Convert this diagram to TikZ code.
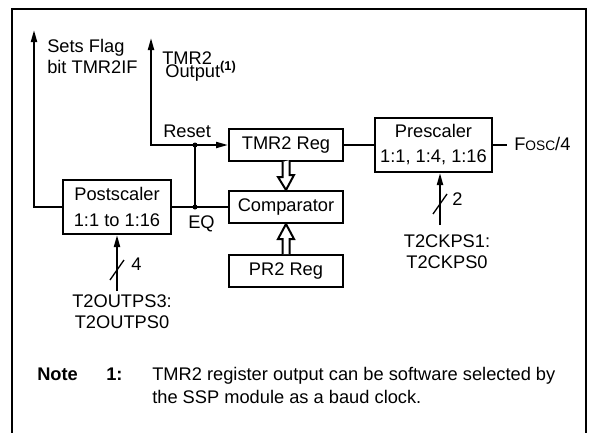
\documentclass[tikz,border=0pt]{standalone}
\usepackage{fontspec}
\setmainfont{Liberation Sans}
\usetikzlibrary{arrows.meta}

\begin{document}
\begin{tikzpicture}[x=0.75pt,y=0.75pt,yscale=-1,xscale=1,
  font=\fontsize{13.7}{15.75}\selectfont,
  blk/.style={draw,line width=1.5,inner sep=0.75pt,align=center,font=\fontsize{13.7}{18.8}\selectfont},
  wire/.style={line width=1.5},
  tip/.style={-{Triangle[length=9pt,width=4.5pt]}}]
\useasboundingbox (0,0) rectangle (589,432);

%Shape: Frame
\draw [line width=1.5] (12,9) -- (586,9) -- (586,470) -- (12,470) -- cycle ;

%Shape: Rectangle [Postscaler]
\draw (117,207) node (post) [blk,minimum width=81pt,minimum height=40.5pt] {Postscaler\\1:1 to 1:16};
%Shape: Rectangle [TMR2 Reg]
\draw (286,145) node (tmr) [blk,minimum width=85.5pt,minimum height=24pt] {TMR2 Reg};
%Shape: Rectangle [Comparator]
\draw (286,207) node (cmp) [blk,minimum width=85.5pt,minimum height=24pt] {Comparator};
%Shape: Rectangle [PR2 Reg]
\draw (286,271) node (pr) [blk,minimum width=85.5pt,minimum height=24pt] {PR2 Reg};
%Shape: Rectangle [Prescaler]
\draw (433.5,145) node (pre) [blk,minimum width=87.75pt,minimum height=40.5pt] {Prescaler\\1:1, 1:4, 1:16};

%Shape: Hollow Arrow [TMR2 Reg to Comparator]
\draw [line width=1.5,fill=white] (tmr.south) ++(-3.5,0) -- ++(0,15) -- ++(-4.5,0) -- (cmp.north) -- ++(8,-15) -- ++(-4.5,0) -- ++(0,-15) ;
%Shape: Hollow Arrow [PR2 Reg to Comparator]
\draw [line width=1.5,fill=white] (pr.north) ++(-3.5,0) -- ++(0,-15) -- ++(-4.5,0) -- (cmp.south) -- ++(8,15) -- ++(-4.5,0) -- ++(0,15) ;

%Straight Lines [flag]
\coordinate (flag) at (34,30);
\draw [wire,tip] (post.west) -| (flag) ;
%Straight Lines [TMR2 output and reset]
\coordinate (tmrout) at (151,38);
\coordinate (rst) at (195,145);
\coordinate (eq) at (195,207);
\draw [wire,{Triangle[length=9pt,width=4.5pt]}-{Triangle[length=9pt,width=4.5pt]}] (tmrout) |- (tmr.west) ;
\draw [wire] (rst) -- (eq) ;
\draw [wire] (post.east) -- (cmp.west) ;
\fill (rst) circle (2.5) ;
\fill (eq) circle (2.5) ;
%Straight Lines [clock]
\draw [wire] (tmr.east) -- (pre.west) ;
\coordinate (fosc) at (507,145);
\draw [wire] (pre.east) -- (fosc) ;
%Straight Lines [prescaler select]
\coordinate (cksel) at (440,225);
\draw [wire,tip] (cksel) -- (cksel |- pre.south) ;
\draw [line width=1] (433,214) -- (447,194) ;
%Straight Lines [postscaler select]
\coordinate (opsel) at (117,291);
\draw [wire,tip] (opsel) -- (post.south) ;
\draw [line width=1] (110,280) -- (124,260) ;

% Text Node
\draw (47,73) node (flagtxt) [anchor=base west] [inner sep=0] [align=left] {Sets Flag\\bit TMR2IF};
% Text Node
\draw (162,77) node (outtxt) [anchor=base west] [inner sep=0] [align=left] {TMR2\\[-6pt]\,Output\textsuperscript{\bfseries(1)}};
% Text Node
\draw (163,137) node (rsttxt) [anchor=base west] [inner sep=0] {Reset};
% Text Node
\draw (188,228) node (eqtxt) [anchor=base west] [inner sep=0] {EQ};
% Text Node
\draw (514,150) node (fosctxt) [anchor=base west] [inner sep=0] {F{\fontsize{10.3}{12}\selectfont OSC}/4};
% Text Node
\draw (452,205) node (twotxt) [anchor=base west] [inner sep=0] {2};
% Text Node
\draw (131,270) node (fourtxt) [anchor=base west] [inner sep=0] {4};
% Text Node
\draw (447,268) node (ckstxt) [anchor=base] [inner sep=0] [align=center] {T2CKPS1:\\T2CKPS0};
% Text Node
\draw (122,328) node (opstxt) [anchor=base] [inner sep=0] [align=center] {T2OUTPS3:\\T2OUTPS0};
% Text Node
\draw (37,380) node (notetxt) [anchor=base west] [inner sep=0] {\bfseries Note};
% Text Node
\draw (106,380) node (numtxt) [anchor=base west] [inner sep=0] {\bfseries 1:};
% Text Node
\draw (152,403) node (remtxt) [anchor=base west] [inner sep=0] [align=left] {TMR2 register output can be software selected by\\[1.5pt]the SSP module as a baud clock.};

\end{tikzpicture}
\end{document}
